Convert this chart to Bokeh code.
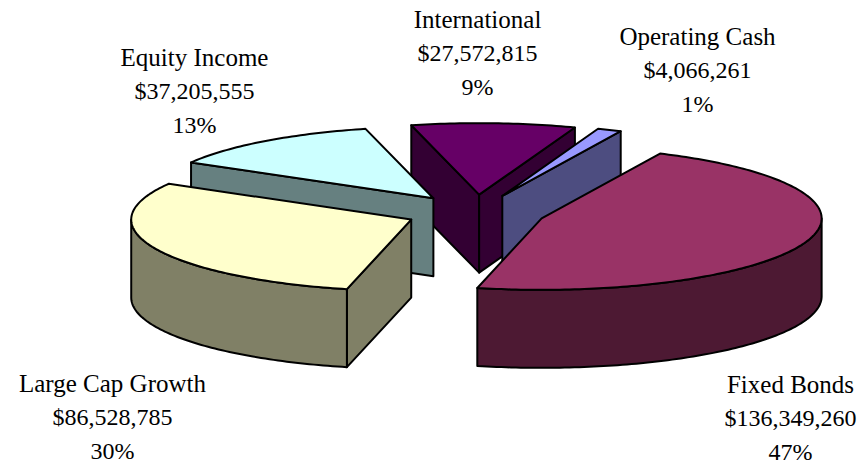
import math
from bokeh.plotting import figure
from bokeh.models import Range1d
from bokeh.core.properties import value
from bokeh.embed import file_html
from bokeh.resources import INLINE

# data
names = ["Operating Cash", "Fixed Bonds", "Large Cap Growth", "Equity Income", "International"]
amounts = [4066261, 136349260, 86528785, 37205555, 27572815]
money = ["$4,066,261", "$136,349,260", "$86,528,785", "$37,205,555", "$27,572,815"]
pcts = ["1%", "47%", "30%", "13%", "9%"]
top_colors = ["#9999FF", "#993366", "#FFFFCC", "#CCFFFF", "#660066"]
side_colors = ["#4D4D80", "#4D1933", "#808066", "#668080", "#330033"]
label_x = [697, 790, 112, 194, 477]
label_y = [36, 384, 383, 57, 19]

# pie geometry (page pixels)
CX, CY, RX, RY, DEPTH = 475.0, 212.0, 280.0, 71.5, 78.0
EXPLODE, START = 0.25, 70.0
DRAW_ORDER = [4, 0, 3, 2, 1]
LINE_GAP = 33.5

W, H = 863, 463
p = figure(width=W, height=H, output_backend="svg", toolbar_location=None,
           x_range=Range1d(0, W), y_range=Range1d(H, 0),
           min_border=0, outline_line_color=None, background_fill_color="white")
p.axis.visible = False
p.grid.visible = False


def pt(ax, ay, deg):
    r = math.radians(deg)
    return ax + RX * math.cos(r), ay - RY * math.sin(r)


def quad(xs, ys, color):
    p.patch(xs, ys, fill_color=color, line_color="black", line_width=2, line_join="round")


total = sum(amounts)
spans = []
a = START
for v in amounts:
    b = a - 360.0 * v / total
    spans.append((a, b))
    a = b

for i in DRAW_ORDER:
    hi, lo = spans[i]
    mid = math.radians((hi + lo) / 2)
    ax = CX + EXPLODE * RX * math.cos(mid)
    ay = CY - EXPLODE * RY * math.sin(mid)

    # cut faces
    for ang, normal in ((hi, hi + 90), (lo, lo - 90)):
        if math.sin(math.radians(normal)) < 0:
            x, y = pt(ax, ay, ang)
            quad([ax, x, x, ax], [ay, y, y + DEPTH, ay + DEPTH], side_colors[i])

    # outer wall: the part of the rim that faces the viewer
    n = max(2, int(hi - lo))
    rim = [lo + (hi - lo) * k / n for k in range(n + 1)]
    front = [t for t in rim if math.sin(math.radians(t)) <= 0]
    if len(front) > 1:
        fx, fy = zip(*[pt(ax, ay, t) for t in front])
        quad(list(fx) + list(fx[::-1]),
             list(fy) + [y + DEPTH for y in fy[::-1]], side_colors[i])

    # top face
    tx, ty = zip(*[pt(ax, ay, t) for t in rim])
    quad([ax] + list(tx), [ay] + list(ty), top_colors[i])

for i, name in enumerate(names):
    for k, (s, size) in enumerate(((name, "25px"), (money[i], "24px"), (pcts[i], "24px"))):
        p.text([label_x[i]], [label_y[i] + k * LINE_GAP], text=[s],
               text_font=value("Liberation Serif"), text_font_size=size,
               text_color="black", text_align="center", text_baseline="middle")

open("out.html", "w").write(file_html(p, INLINE))
